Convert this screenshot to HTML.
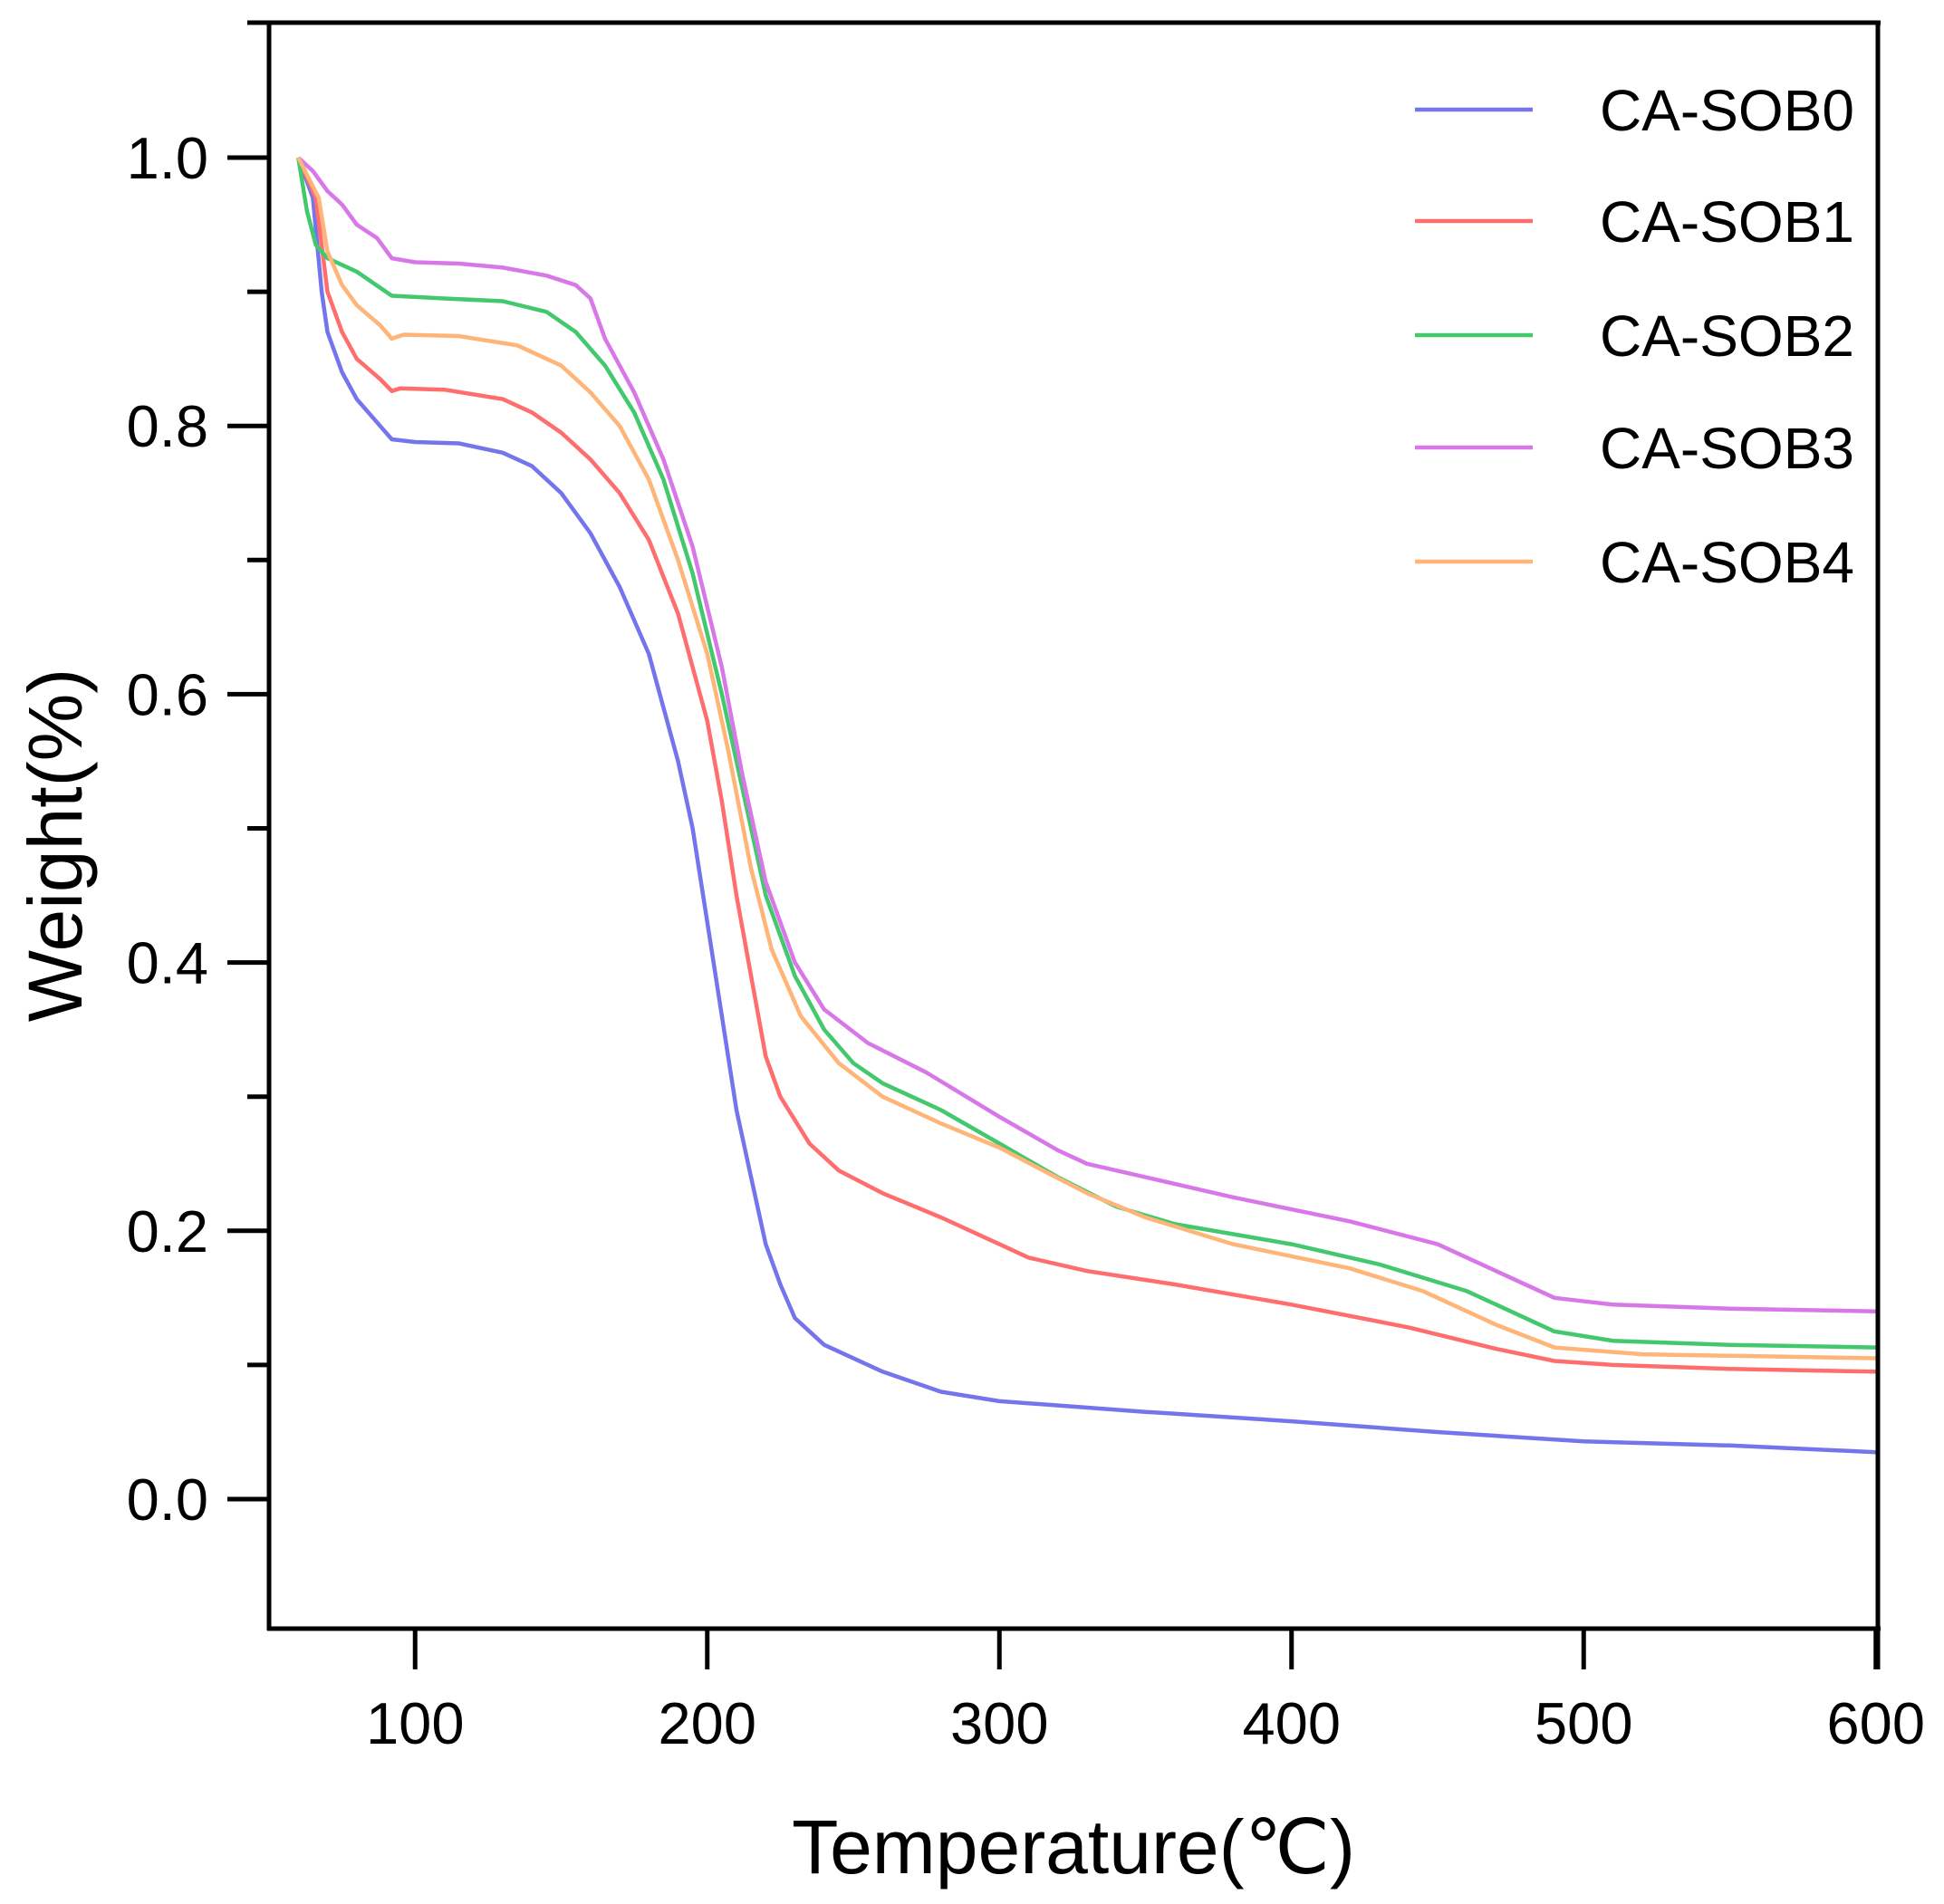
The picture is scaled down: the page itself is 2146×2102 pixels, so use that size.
<!DOCTYPE html>
<html><head><meta charset="utf-8"><style>
html,body{margin:0;padding:0;background:#fff}
svg{display:block}
text{font-family:"Liberation Sans",Arial,sans-serif;fill:#000}
</style></head><body>
<svg id="s" width="2146" height="2102" viewBox="0 0 2146 2102" xmlns="http://www.w3.org/2000/svg">
<g id="curves" fill="none" stroke-width="4.5" stroke-linejoin="round"></g>
<g stroke="#000" stroke-width="5" fill="none">
<line x1="273" y1="25" x2="2076" y2="25"/>
<line x1="297" y1="25" x2="297" y2="1800"/>
<line x1="2073" y1="25" x2="2073" y2="1843"/>
<line x1="295" y1="1798" x2="2076" y2="1798"/>
<g id="ticks"></g>
</g>
<g font-size="65" text-anchor="end" id="ylab"></g>
<g font-size="65" text-anchor="middle" id="xlab"></g>
<text x="1185" y="2068" font-size="84" text-anchor="middle">Temperature(℃)</text>
<text transform="translate(90,933) rotate(-90)" font-size="84" text-anchor="middle">Weight(%)</text>
<g font-size="64" id="leg"></g>
</svg>
<script>
var NS="http://www.w3.org/2000/svg";
function X(t){return 297+(t-50)*3.225;}
function Y(v){return 1655-v*1481;}
function el(tag,attrs,txt){var e=document.createElementNS(NS,tag);for(var k in attrs)e.setAttribute(k,attrs[k]);if(txt!=null)e.textContent=txt;return e;}
var ticks=document.getElementById('ticks'),yl=document.getElementById('ylab'),xl=document.getElementById('xlab');
for(var i=0;i<=10;i++){var v=i/10,y=Y(v);
 if(i%2==0){ticks.appendChild(el('line',{x1:251,y1:y,x2:297,y2:y}));yl.appendChild(el('text',{x:230,y:y+23},v.toFixed(1)));}
 else ticks.appendChild(el('line',{x1:273,y1:y,x2:297,y2:y}));}
for(var t=100;t<=600;t+=100){var x=X(t);ticks.appendChild(el('line',{x1:x,y1:1798,x2:x,y2:1843}));xl.appendChild(el('text',{x:x,y:1925},String(t)));}
var S=[
["CA-SOB0","#7474ec",[[60,1],[65,.97],[68,.9],[70,.87],[75,.84],[80,.82],[88,.8],[92,.79],[100,.788],[115,.787],[130,.78],[140,.77],[150,.75],[160,.72],[170,.68],[180,.63],[190,.55],[195,.5],[200,.43],[205,.36],[210,.29],[215,.24],[220,.19],[225,.16],[230,.135],[240,.115],[260,.095],[280,.08],[300,.073],[350,.065],[400,.058],[450,.05],[500,.043],[550,.04],[600,.035]]],
["CA-SOB1","#ff6e6e",[[60,1],[66,.97],[70,.9],[75,.87],[80,.85],[88,.835],[92,.826],[95,.828],[110,.827],[130,.82],[140,.81],[150,.795],[160,.775],[170,.75],[180,.715],[190,.66],[200,.58],[205,.52],[210,.45],[215,.39],[220,.33],[225,.3],[235,.265],[245,.245],[260,.228],[280,.21],[300,.19],[310,.18],[330,.17],[360,.16],[400,.145],[440,.128],[470,.112],[490,.103],[510,.1],[550,.097],[600,.095]]],
["CA-SOB2","#44c86e",[[60,1],[63,.96],[66,.935],[70,.925],[80,.915],[92,.897],[110,.895],[130,.893],[145,.885],[155,.87],[165,.845],[175,.81],[185,.76],[195,.69],[205,.6],[212,.53],[220,.45],[230,.39],[240,.35],[250,.325],[260,.31],[280,.29],[300,.265],[320,.24],[340,.218],[360,.205],[400,.19],[430,.175],[460,.155],[490,.125],[510,.118],[550,.115],[600,.113]]],
["CA-SOB3","#d878e8",[[60,1],[65,.99],[70,.975],[75,.965],[80,.95],[87,.94],[92,.925],[100,.922],[115,.921],[130,.918],[145,.912],[155,.905],[160,.895],[165,.865],[175,.825],[185,.775],[195,.71],[205,.62],[212,.54],[220,.46],[230,.4],[240,.365],[255,.34],[275,.318],[300,.285],[320,.26],[330,.25],[350,.24],[380,.225],[420,.207],[450,.19],[470,.17],[490,.15],[510,.145],[550,.142],[600,.14]]],
["CA-SOB4","#ffb478",[[60,1],[67,.97],[70,.93],[75,.905],[80,.89],[88,.875],[92,.865],[96,.868],[115,.867],[135,.86],[150,.845],[160,.825],[170,.8],[180,.76],[190,.7],[200,.63],[207,.56],[215,.47],[222,.41],[232,.36],[245,.325],[260,.3],[280,.28],[300,.262],[315,.245],[330,.228],[350,.21],[380,.19],[420,.172],[445,.155],[470,.13],[490,.113],[520,.108],[600,.105]]]];
var cg=document.getElementById('curves'),lg=document.getElementById('leg');
var ly=[121,244,370,494,620];
S.forEach(function(s,i){
 cg.appendChild(el('polyline',{stroke:s[1],points:s[2].map(function(p){return X(p[0]).toFixed(1)+","+Y(p[1]).toFixed(1);}).join(" ")}));
 lg.appendChild(el('line',{x1:1562,y1:ly[i],x2:1692,y2:ly[i],stroke:s[1],'stroke-width':4.5}));
 lg.appendChild(el('text',{x:1766,y:ly[i]+23},s[0]));
});
</script>
</body></html>
